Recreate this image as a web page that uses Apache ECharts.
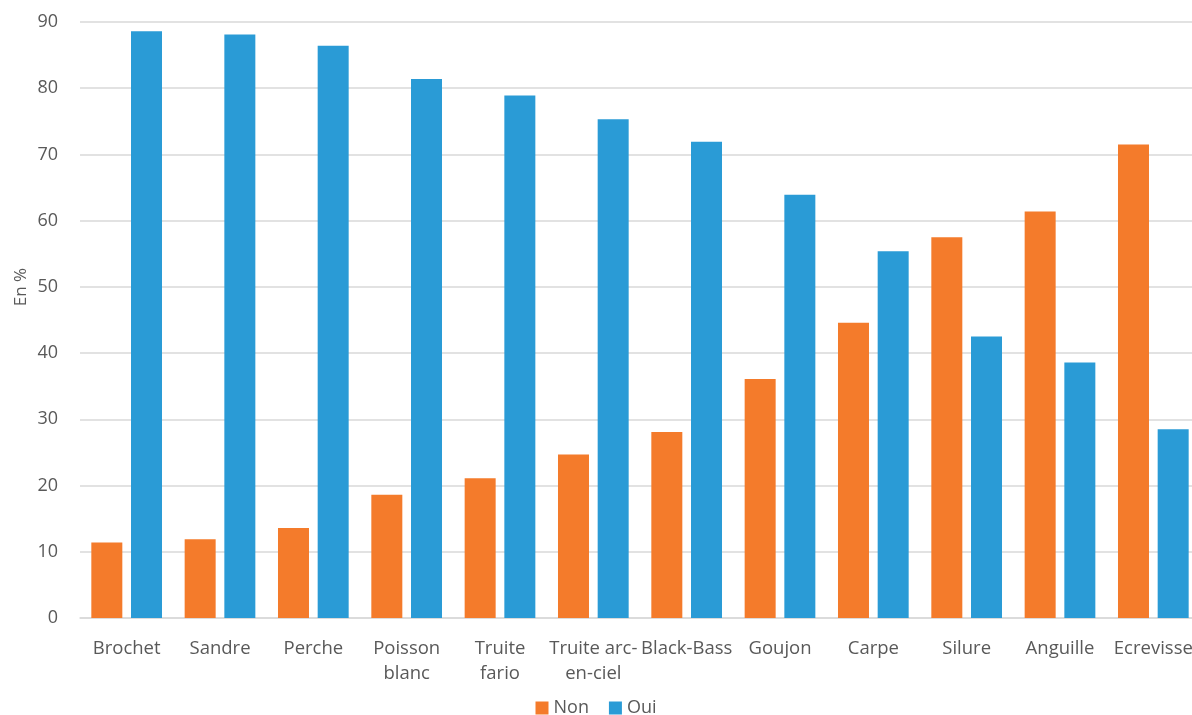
<!DOCTYPE html>
<html>
<head>
<meta charset="utf-8">
<script src="https://cdn.jsdelivr.net/npm/echarts@6/dist/echarts.min.js"></script>
<style>
  html, body { margin: 0; padding: 0; background: #fff; }
  #chart { width: 1192px; height: 715px; }
</style>
</head>
<body>
<div id="chart"></div>
<script>
const categories = ['Brochet', 'Sandre', 'Perche', 'Poisson\nblanc', 'Truite\nfario',
  'Truite arc-\nen-ciel', 'Black-Bass', 'Goujon', 'Carpe', 'Silure', 'Anguille', 'Ecrevisse'];
const nonValues = [11.4, 11.9, 13.6, 18.6, 21.1, 24.7, 28.1, 36.1, 44.6, 57.5, 61.4, 71.5];
const ouiValues = [88.6, 88.1, 86.4, 81.4, 78.9, 75.3, 71.9, 63.9, 55.4, 42.5, 38.6, 28.5];
const yTicks = { min: 0, max: 90, interval: 10 };
const yName = 'En %';

const chart = echarts.init(document.getElementById('chart'));

const font = '"Open Sans", "Noto Sans", sans-serif';

const option = {
  textStyle: { fontFamily: font },
  animation: false,
  grid: {
    left: 80,
    top: 22,
    width: 1120,
    bottom: 97,
    outerBoundsMode: 'none',
  },
  // axis title sits a bit above the plot middle in the original
  graphic: [
    {
      type: 'text',
      x: 21,
      y: 287,
      rotation: Math.PI / 2,
      style: {
        text: yName,
        fill: '#595959',
        font: '17px ' + font,
        align: 'center',
        verticalAlign: 'middle',
      },
    },
  ],
  legend: {
    top: 694,
    left: 'center',
    itemWidth: 13,
    itemHeight: 13,
    itemGap: 20,
    icon: 'rect',
    textStyle: { fontSize: 18, color: '#595959', fontFamily: font },
    data: ['Non', 'Oui'],
  },
  xAxis: {
    type: 'category',
    data: categories,
    axisTick: { show: false },
    axisLine: { lineStyle: { color: '#d9d9d9', width: 1.5 } },
    axisLabel: {
      color: '#595959',
      fontSize: 18.5,
      lineHeight: 25,
      margin: 18,
      interval: 0,
      fontFamily: font,
    },
  },
  yAxis: {
    type: 'value',
    min: yTicks.min,
    max: yTicks.max,
    interval: yTicks.interval,
    axisLabel: { color: '#595959', fontSize: 18, margin: 22, fontFamily: font },
    splitLine: { lineStyle: { color: '#d9d9d9', width: 1.5 } },
    axisLine: { show: false },
    axisTick: { show: false },
  },
  series: [
    {
      name: 'Non',
      type: 'bar',
      data: nonValues,
      barWidth: 31,
      barGap: '28%',
      itemStyle: { color: '#f47b2b' },
    },
    {
      name: 'Oui',
      type: 'bar',
      data: ouiValues,
      barWidth: 31,
      itemStyle: { color: '#2a9bd6' },
    },
  ],
};

chart.setOption(option);
</script>
</body>
</html>
